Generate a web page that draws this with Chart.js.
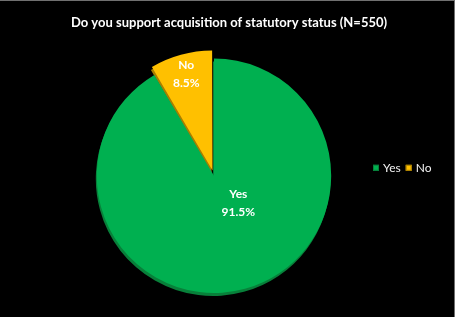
<!DOCTYPE html>
<html><head><meta charset="utf-8">
<script src="https://cdn.jsdelivr.net/npm/chart.js@4/dist/chart.umd.min.js"></script>
<style>
html,body{margin:0;padding:0;background:#000;}
#wrap{position:relative;width:455px;height:317px;background:#000;}
#frame{position:absolute;left:0;top:0;width:455px;height:317px;box-sizing:border-box;border-top:1px solid #707070;border-right:1px solid #707070;pointer-events:none;}
canvas{display:block;}
</style></head><body>
<div id="wrap"><canvas id="c" width="455" height="317"></canvas><div id="frame"></div></div>
<script>
const titleText = 'Do you support acquisition of statutory status (N=550)';
const categories = ['Yes', 'No'];
const percentages = [91.5, 8.5];
const sliceColors = ['#00B050', '#FFC000'];
const sideColors = ['#08803A', '#A87E00'];
const sliceOffsets = [0, 22];

// extruded "depth" under each slice
const sliceDepth = {
  id: 'sliceDepth',
  beforeDatasetsDraw(chart, args, opts) {
    const ctx = chart.ctx;
    const meta = chart.getDatasetMeta(0);
    ctx.save();
    ctx.translate(opts.dx, opts.dy);
    meta.data.forEach((arc, i) => {
      const ghost = Object.create(arc);
      ghost.options = Object.assign({}, arc.options, {backgroundColor: opts.colors[i], borderWidth: 0});
      ghost.draw(ctx);
    });
    ctx.restore();
  }
};

// two-line labels inside slices
const sliceLabels = {
  id: 'sliceLabels',
  afterDatasetsDraw(chart, args, opts) {
    const ctx = chart.ctx;
    const meta = chart.getDatasetMeta(0);
    const ds = chart.data.datasets[0];
    ctx.save();
    ctx.fillStyle = '#ffffff';
    ctx.font = 'bold 12px Lato';
    ctx.textAlign = 'center';
    ctx.textBaseline = 'middle';
    meta.data.forEach((arc, i) => {
      const p = arc.getProps(['x', 'y', 'startAngle', 'endAngle', 'outerRadius'], true);
      const off = (arc.options.offset || 0) / 4;
      const mid = (p.startAngle + p.endAngle) / 2;
      const cx = p.x + Math.cos(mid) * off;
      const cy = p.y + Math.sin(mid) * off;
      const ang = opts.angles[i] == null ? mid : opts.angles[i] * Math.PI / 180;
      const d = p.outerRadius * opts.dist[i];
      const lx = cx + Math.cos(ang) * d;
      const ly = cy + Math.sin(ang) * d;
      ctx.fillText(chart.data.labels[i], lx, ly - opts.gap / 2);
      ctx.fillText(ds.data[i].toFixed(1) + '%', lx, ly + opts.gap / 2);
    });
    ctx.restore();
  }
};

// one-row legend placed in a right-hand layout box
const rowLegend = {
  id: 'rowLegend',
  beforeInit(chart, args, opts) {
    const box = {
      position: 'right', weight: 1000, fullSize: false, options: {},
      top: 0, left: 0, right: 0, bottom: 0, width: 0, height: 0,
      isHorizontal() { return false; },
      update(maxWidth, maxHeight) { this.width = opts.reserve; this.height = maxHeight; },
      draw() {
        const ctx = chart.ctx;
        const ca = chart.chartArea;
        const ds = chart.data.datasets[0];
        const y = (ca.top + ca.bottom) / 2 + opts.dy;
        let x = this.left + opts.dx;
        ctx.save();
        ctx.font = '12px Lato';
        ctx.textBaseline = 'middle';
        ctx.textAlign = 'left';
        chart.data.labels.forEach((lab, i) => {
          ctx.fillStyle = ds.backgroundColor[i];
          ctx.fillRect(x, y - 3, 6, 6);
          ctx.strokeStyle = sideColors[i];
          ctx.lineWidth = 1;
          ctx.strokeRect(x + 0.5, y - 2.5, 5, 5);
          x += 6 + 4;
          ctx.fillStyle = '#f2f2f2';
          ctx.fillText(lab, x, y);
          x += ctx.measureText(lab).width + 5;
        });
        ctx.restore();
      }
    };
    Chart.layouts.addBox(chart, box);
  }
};

new Chart(document.getElementById('c'), {
  type: 'pie',
  data: {
    labels: categories,
    datasets: [{
      data: percentages,
      backgroundColor: sliceColors,
      borderWidth: 0,
      offset: sliceOffsets
    }]
  },
  options: {
    responsive: false,
    animation: false,
    events: [],
    layout: { padding: { left: 3, right: 0, top: 0, bottom: 13 } },
    plugins: {
      legend: { display: false },
      tooltip: { enabled: false },
      title: {
        display: true,
        text: titleText,
        color: '#ffffff',
        font: { family: 'Lato', size: 13, weight: 'bold' },
        padding: { top: 15, bottom: 17 }
      },
      sliceDepth: { dx: -1, dy: 3, colors: sideColors },
      sliceLabels: { angles: [48, null], dist: [0.31, 0.85], gap: 18 },
      rowLegend: { reserve: 30, dx: -52, dy: -8 }
    }
  },
  plugins: [sliceDepth, sliceLabels, rowLegend]
});
</script>
</body></html>
